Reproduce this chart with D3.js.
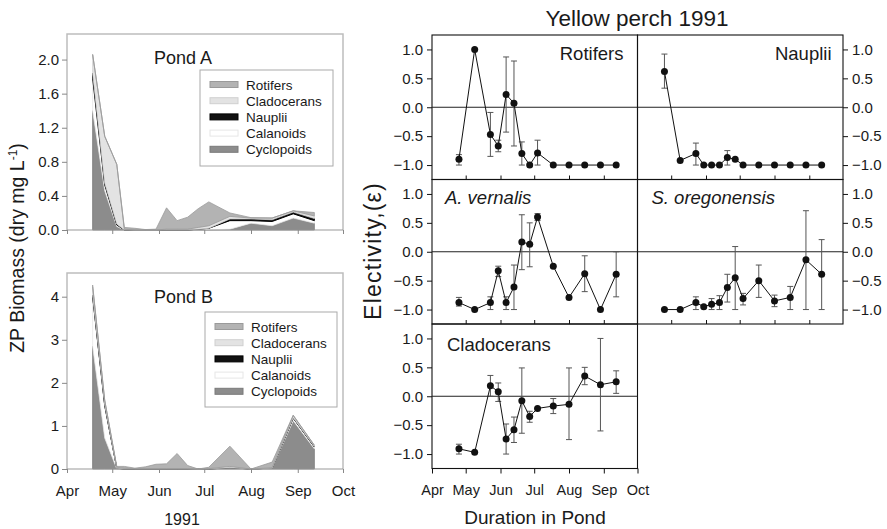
<!DOCTYPE html>
<html><head><meta charset="utf-8">
<script src="https://cdn.jsdelivr.net/npm/d3@7/dist/d3.min.js"></script>
<style>body{margin:0;background:#fff}svg{display:block;font-family:"Liberation Sans",Arial,sans-serif}</style>
</head><body><svg id="c" width="887" height="529"></svg>
<script>
// ---------- data ----------
const bioDates = ["1991-04-18","1991-04-26","1991-05-04","1991-05-09","1991-05-16","1991-05-23","1991-05-30","1991-06-06","1991-06-13","1991-06-20","1991-06-27","1991-07-04","1991-07-18","1991-08-01","1991-08-15","1991-08-29","1991-09-12"];
const groups = ["Rotifers","Cladocerans","Nauplii","Calanoids","Cyclopoids"];
const groupFill = {Rotifers:"#b3b3b3",Cladocerans:"#e3e3e3",Nauplii:"#111111",Calanoids:"#ffffff",Cyclopoids:"#8c8c8c"};
const groupStroke = {Rotifers:"#9a9a9a",Cladocerans:"#d0d0d0",Nauplii:"#000000",Calanoids:"#e6e6e6",Cyclopoids:"#7a7a7a"};
// Pond A biomass (dry mg/L)
const aCyclopoids = [1.40,0.46,0.04,0,0,0,0,0,0,0,0,0,0.01,0.08,0.05,0.14,0.08];
const aCalanoids  = [0.38,0.07,0.02,0,0,0,0,0,0,0,0.01,0.02,0.10,0.03,0.05,0.05,0.03];
const aNauplii    = [0.06,0.02,0.01,0,0,0,0,0,0,0,0,0,0.02,0.02,0.02,0.02,0.025];
const aCladocerans= [0.22,0.55,0.70,0.01,0,0,0,0.01,0.01,0.01,0.02,0.03,0.03,0.01,0.02,0.015,0.03];
const aRotifers   = [0,0,0,0.02,0.02,0.005,0.01,0.25,0.10,0.14,0.22,0.28,0.04,0.005,0,0,0.04];
// Pond B biomass
const bCyclopoids = [2.85,0.72,0,0,0,0,0,0,0,0,0,0,0.03,0,0.02,1.12,0.47];
const bCalanoids  = [1.15,0.75,0.02,0,0,0,0,0,0,0,0,0,0,0,0,0.06,0.04];
const bNauplii    = [0.03,0.02,0,0,0,0,0,0,0,0,0,0,0,0,0,0.01,0.01];
const bCladocerans= [0.20,0.10,0.02,0.02,0.01,0.01,0.01,0.01,0.01,0.01,0,0.01,0.03,0,0.01,0.05,0.03];
const bRotifers   = [0.04,0.01,0.02,0.04,0.01,0.04,0.10,0.11,0.35,0.07,0,0.03,0.47,0,0.13,0.01,0];
const pondATicks = [0,0.4,0.8,1.2,1.6,2.0];
const pondBTicks = [0,1,2,3,4];
const monthTicks = ["1991-04-01","1991-05-01","1991-06-01","1991-07-01","1991-08-01","1991-09-01","1991-10-01"];
const monthLabels = ["Apr","May","Jun","Jul","Aug","Sep","Oct"];
// Electivity (Yellow perch 1991)
const elDates = ["1991-04-25","1991-05-09","1991-05-23","1991-05-30","1991-06-06","1991-06-13","1991-06-20","1991-06-27","1991-07-04","1991-07-18","1991-08-01","1991-08-15","1991-08-29","1991-09-12"];
const rotMean = [-0.90,1.0,-0.47,-0.67,0.22,0.07,-0.80,-1.0,-0.79,-1,-1,-1,-1,-1];
const rotLo   = [-1.0,null,-0.85,-0.77,-0.43,-0.67,-1.0,null,-1.0,null,null,null,null,null];
const rotHi   = [-0.82,null,-0.09,-0.57,0.87,0.80,-0.60,null,-0.57,null,null,null,null,null];
const naupMean = [0.62,-0.92,-0.80,-1,-1,-1,-0.87,-0.90,-1,-1,-1,-1,-1,-1];
const naupLo   = [0.33,null,-1.0,null,null,null,-1.0,null,null,null,null,null,null,null];
const naupHi   = [0.92,null,-0.62,null,null,null,-0.75,null,null,null,null,null,null,null];
const avMean = [-0.88,-1.0,-0.88,-0.33,-0.88,-0.61,0.17,0.13,0.60,-0.25,-0.79,-0.38,-1.0,-0.39];
const avLo   = [-0.94,null,-1.0,-0.43,-1.0,-1.0,-0.31,-0.26,0.54,null,null,-0.69,null,-0.78];
const avHi   = [-0.79,null,-0.78,-0.25,-0.78,-0.23,0.64,0.50,0.66,null,null,-0.07,null,0.0];
const soMean = [-1,-1,-0.88,-0.95,-0.91,-0.88,-0.62,-0.45,-0.81,-0.50,-0.85,-0.79,-0.14,-0.39];
const soLo   = [null,null,-1.0,-0.97,-1.0,-1.0,-0.87,-1.0,-0.92,-0.79,-0.95,-1.0,-1.0,-1.0];
const soHi   = [null,null,-0.78,-0.93,-0.81,-0.76,-0.39,0.09,-0.72,-0.23,-0.75,-0.60,0.71,0.21];
const clMean = [-0.91,-0.97,0.18,0.08,-0.74,-0.58,-0.08,-0.35,-0.21,-0.17,-0.14,0.35,0.20,0.25];
const clLo   = [-1.0,null,0.0,-0.09,-1.0,-0.80,-0.64,-0.45,null,-0.30,-0.75,0.20,-0.60,0.05];
const clHi   = [-0.83,null,0.36,0.23,-0.48,-0.36,0.49,-0.26,null,-0.04,0.49,0.50,1.0,0.44];
const elTicks = [-1.0,-0.5,0.0,0.5,1.0];

// ---------- drawing ----------
const svg = d3.select("#c");
const parse = d3.timeParse("%Y-%m-%d");
const fmt1 = d3.format(".1f");
const txt = "#1a1a1a";

// Left biomass panels
const lx = d3.scaleTime().domain([parse(monthTicks[0]), parse(monthTicks[6])]).range([67, 343]);
function pond(cfg){
  const y = d3.scaleLinear().domain([0, cfg.ymax]).range([cfg.bottom, cfg.top]);
  const rows = bioDates.map((d,i)=>{const o={date:parse(d)}; groups.forEach(g=>o[g]=cfg.data[g][i]); return o;});
  const stack = d3.stack().keys(groups.slice().reverse())(rows);
  const g = svg.append("g");
  const area = d3.area().x(d=>lx(d.data.date)).y0(d=>y(d[0])).y1(d=>y(d[1]));
  stack.forEach(s=>{
    g.append("path").datum(s).attr("d",area).attr("fill",groupFill[s.key])
      .attr("stroke",groupStroke[s.key]).attr("stroke-width",s.key==="Nauplii"?1:0.8).attr("stroke-linejoin","round");
  });
  // frame
  g.append("path").attr("d",`M67,${cfg.bottom}V${cfg.top}H343V${cfg.bottom}`).attr("fill","none").attr("stroke","#bdbdbd").attr("stroke-width",1.5);
  // y axis
  const ya = d3.axisLeft(y).tickValues(cfg.ticks).tickSize(5).tickPadding(3).tickFormat(cfg.fmt);
  const yg = g.append("g").attr("transform","translate(67,0)").call(ya);
  yg.select(".domain").remove();
  yg.selectAll("line").attr("stroke","#888");
  yg.selectAll("text").attr("font-size",15).attr("fill",txt).attr("font-family","Liberation Sans, Arial");
  // x axis
  const xa = d3.axisBottom(lx).tickValues(monthTicks.map(parse)).tickSize(4).tickPadding(12)
    .tickFormat((d,i)=>cfg.labels?monthLabels[i]:"");
  const xg = g.append("g").attr("transform",`translate(0,${cfg.bottom})`).call(xa);
  xg.select(".domain").attr("stroke","#999").attr("d",`M67,0H343`);
  xg.selectAll("line").attr("stroke","#888");
  xg.selectAll("text").attr("font-size",15).attr("fill",txt).attr("font-family","Liberation Sans, Arial");
  // title
  g.append("text").attr("x",154).attr("y",cfg.top+30).attr("font-size",18).attr("fill",txt).text(cfg.title);
  // legend
  const L = cfg.legend;
  g.append("rect").attr("x",L.x).attr("y",L.y).attr("width",L.w).attr("height",L.h).attr("fill","#fff").attr("stroke","#aaa").attr("stroke-width",1);
  groups.forEach((k,i)=>{
    const yy = L.y+14.5+i*16.2;
    g.append("rect").attr("x",L.x+10).attr("y",yy-3).attr("width",28).attr("height",6)
      .attr("fill",groupFill[k]).attr("stroke",groupStroke[k]).attr("stroke-width",1);
    g.append("text").attr("x",L.x+46).attr("y",yy+5).attr("font-size",13.5).attr("fill",txt).text(k);
  });
}
pond({title:"Pond A", top:34, bottom:230, ymax:2.3, ticks:pondATicks, fmt:fmt1, labels:false,
  data:{Rotifers:aRotifers,Cladocerans:aCladocerans,Nauplii:aNauplii,Calanoids:aCalanoids,Cyclopoids:aCyclopoids},
  legend:{x:200,y:70,w:133,h:96}});
pond({title:"Pond B", top:273, bottom:469, ymax:4.55, ticks:pondBTicks, fmt:d3.format("d"), labels:true,
  data:{Rotifers:bRotifers,Cladocerans:bCladocerans,Nauplii:bNauplii,Calanoids:bCalanoids,Cyclopoids:bCyclopoids},
  legend:{x:205,y:312,w:132,h:95}});
svg.append("text").attr("x",182).attr("y",525).attr("text-anchor","middle").attr("font-size",16).attr("fill",txt).text("1991");
const yt = svg.append("text").attr("transform","translate(24,248) rotate(-90)").attr("text-anchor","middle").attr("font-size",19.5).attr("fill",txt);
yt.append("tspan").text("ZP Biomass (dry mg L");
yt.append("tspan").attr("font-size",12).attr("dy",-7).text("-1");
yt.append("tspan").attr("dy",7).text(")");

// Right electivity panels
const colX = [432, 637.5], colW = 205.5;
const rowY = [35, 179.5, 324], rowH = 144.5;
const panels = [
  {name:"Rotifers", col:0,row:0, mean:rotMean, lo:rotLo, hi:rotHi, anchor:"end", italic:false, off:14, dy:24.5},
  {name:"Nauplii", col:1,row:0, mean:naupMean, lo:naupLo, hi:naupHi, anchor:"end", italic:false, off:11.5, dy:24.5},
  {name:"A. vernalis", col:0,row:1, mean:avMean, lo:avLo, hi:avHi, anchor:"start", italic:true, off:13, dy:24.5},
  {name:"S. oregonensis", col:1,row:1, mean:soMean, lo:soLo, hi:soHi, anchor:"start", italic:true, off:14, dy:24.5},
  {name:"Cladocerans", col:0,row:2, mean:clMean, lo:clLo, hi:clHi, anchor:"start", italic:false, off:15, dy:26.5}
];
panels.forEach(p=>{
  const x0 = colX[p.col], y0 = rowY[p.row];
  const x = d3.scaleTime().domain([parse(monthTicks[0]), parse(monthTicks[6])]).range([x0, x0+colW]);
  const y = d3.scaleLinear().domain([-1.25,1.25]).range([y0+rowH, y0]);
  const g = svg.append("g");
  g.append("rect").attr("x",x0).attr("y",y0).attr("width",colW).attr("height",rowH).attr("fill","none").attr("stroke","#111").attr("stroke-width",1.1);
  g.append("line").attr("x1",x0).attr("x2",x0+colW).attr("y1",y(0)).attr("y2",y(0)).attr("stroke","#222").attr("stroke-width",1);
  // y axis
  const ya = (p.col===0?d3.axisLeft(y):d3.axisRight(y)).tickValues(elTicks).tickSize(5).tickPadding(4).tickFormat(fmt1);
  const yg = g.append("g").attr("transform",`translate(${p.col===0?x0:x0+colW},0)`).call(ya);
  yg.select(".domain").remove();
  yg.selectAll("line").attr("stroke","#111");
  yg.selectAll("text").attr("font-size",15).attr("fill",txt).attr("font-family","Liberation Sans, Arial");
  // x ticks
  if(p.row===2){
    const xa = d3.axisBottom(x).tickValues(monthTicks.map(parse)).tickSize(5).tickPadding(11).tickFormat((d,i)=>monthLabels[i]);
    const xg = g.append("g").attr("transform",`translate(0,${y0+rowH})`).call(xa);
    xg.select(".domain").remove();
    xg.selectAll("line").attr("stroke","#111");
    xg.selectAll("text").attr("font-size",14.5).attr("fill",txt).attr("font-family","Liberation Sans, Arial");
  } else {
    const xa = d3.axisTop(x).tickValues(monthTicks.slice(1,6).map(parse)).tickSize(4).tickFormat("");
    const xg = g.append("g").attr("transform",`translate(0,${y0+rowH})`).call(xa);
    xg.select(".domain").remove();
    xg.selectAll("line").attr("stroke","#111");
  }
  const pts = elDates.map((d,i)=>({date:parse(d), m:p.mean[i], lo:p.lo[i], hi:p.hi[i]}));
  // error bars
  const eb = g.append("g").attr("stroke","#555").attr("stroke-width",1);
  pts.filter(d=>d.lo!==null).forEach(d=>{
    const cx = x(d.date);
    eb.append("line").attr("x1",cx).attr("x2",cx).attr("y1",y(d.lo)).attr("y2",y(d.hi));
    eb.append("line").attr("x1",cx-3).attr("x2",cx+3).attr("y1",y(d.lo)).attr("y2",y(d.lo));
    eb.append("line").attr("x1",cx-3).attr("x2",cx+3).attr("y1",y(d.hi)).attr("y2",y(d.hi));
  });
  g.append("path").datum(pts).attr("d",d3.line().x(d=>x(d.date)).y(d=>y(d.m))).attr("fill","none").attr("stroke","#111").attr("stroke-width",1);
  g.selectAll("circle.pt").data(pts).enter().append("circle").attr("cx",d=>x(d.date)).attr("cy",d=>y(d.m)).attr("r",3.5).attr("fill","#111");
  // label
  g.append("text").attr("x",p.anchor==="end"?x0+colW-p.off:x0+p.off).attr("y",y0+p.dy).attr("text-anchor",p.anchor)
    .attr("font-size",18.5).attr("font-style",p.italic?"italic":"normal").attr("fill",txt).text(p.name);
});
svg.append("text").attr("x",637).attr("y",26).attr("text-anchor","middle").attr("font-size",22.5).attr("fill",txt).text("Yellow perch 1991");
svg.append("text").attr("transform","translate(381,251) rotate(-90)").attr("text-anchor","middle").attr("font-size",23).attr("letter-spacing",1.2).attr("fill",txt).text("Electivity,(ε)");
svg.append("text").attr("x",535).attr("y",524).attr("text-anchor","middle").attr("font-size",19).attr("fill",txt).text("Duration in Pond");
</script></body></html>
